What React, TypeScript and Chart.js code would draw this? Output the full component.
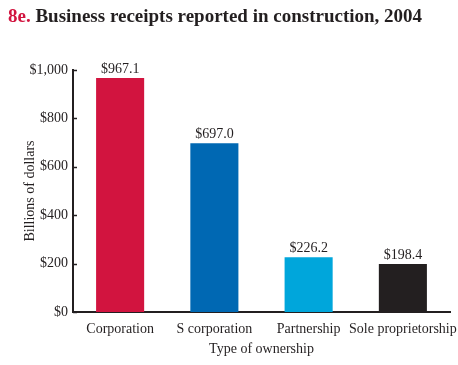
import React, { useEffect, useRef } from "react";
import { Chart, registerables } from "chart.js";

Chart.register(...registerables);

const categories = ["Corporation", "S corporation", "Partnership", "Sole proprietorship"];
const receipts = [967.1, 697.0, 226.2, 198.4];
const barColors = ["#d2143f", "#0068b3", "#00a6db", "#231f20"];
const yTicks = [0, 200, 400, 600, 800, 1000];
const titleNum = "8e.";
const titleText = "Business receipts reported in construction, 2004";
const yTitle = "Billions of dollars";
const xTitle = "Type of ownership";

const FONT = "'Liberation Serif', 'Times New Roman', serif";

export default function App() {
  const ref = useRef<HTMLCanvasElement | null>(null);
  useEffect(() => {
    if (!ref.current) return;
    const extras = {
      id: "extras",
      afterDraw(chart: any) {
        const ctx = chart.ctx;
        const y = chart.scales.y;
        const area = chart.chartArea;
        ctx.save();
        // title
        ctx.font = `bold 19px ${FONT}`;
        ctx.textBaseline = "alphabetic";
        ctx.textAlign = "left";
        ctx.fillStyle = "#d2143f";
        ctx.fillText(titleNum, 8, 22);
        const w = ctx.measureText(titleNum + " ").width;
        ctx.fillStyle = "#231f20";
        ctx.fillText(titleText, 8 + w, 22);
        // inward ticks
        ctx.strokeStyle = "#231f20";
        ctx.lineWidth = 1.5;
        yTicks.forEach((v) => {
          const py = Math.round(y.getPixelForValue(v)) + 0.5;
          ctx.beginPath();
          ctx.moveTo(area.left, py);
          ctx.lineTo(area.left + 4, py);
          ctx.stroke();
        });
        // value labels
        ctx.font = `14px ${FONT}`;
        ctx.fillStyle = "#231f20";
        ctx.textAlign = "center";
        ctx.textBaseline = "alphabetic";
        const meta = chart.getDatasetMeta(0);
        meta.data.forEach((bar: any, i: number) => {
          ctx.fillText("$" + receipts[i].toFixed(1), bar.x, bar.y - 5);
        });
        ctx.restore();
      },
    };
    const chart = new Chart(ref.current, {
      type: "bar",
      data: {
        labels: categories,
        datasets: [
          {
            data: receipts,
            backgroundColor: barColors,
            categoryPercentage: 1,
            barPercentage: 0.51,
          },
        ],
      },
      options: {
        animation: false,
        responsive: false,
        maintainAspectRatio: false,
        layout: { padding: { top: 70, right: 8, left: 0, bottom: 0 } },
        plugins: {
          legend: { display: false },
          tooltip: { enabled: false },
          title: { display: false },
        },
        scales: {
          y: {
            min: 0,
            max: 1000,
            afterBuildTicks(scale: any) {
              scale.ticks = yTicks.map((v) => ({ value: v }));
            },
            afterFit(scale: any) {
              scale.width = 73;
              scale.paddingTop = 0;
              scale.paddingBottom = 0;
            },
            grid: { display: false, drawTicks: false },
            border: { display: true, color: "#231f20", width: 2 },
            ticks: {
              padding: 5,
              color: "#231f20",
              font: { family: FONT, size: 14 },
              callback: (v: any) => "$" + Number(v).toLocaleString("en-US"),
            },
            title: {
              display: true,
              text: yTitle,
              color: "#231f20",
              font: { family: FONT, size: 14 },
              padding: { top: 22, bottom: 0 },
            },
          },
          x: {
            afterFit(scale: any) {
              scale.height = 53;
              scale.paddingLeft = 0;
              scale.paddingRight = 0;
            },
            grid: { display: false, drawTicks: false },
            border: { display: true, color: "#231f20", width: 2 },
            ticks: {
              padding: 9,
              color: "#231f20",
              maxRotation: 0,
              autoSkip: false,
              font: { family: FONT, size: 14 },
            },
            title: {
              display: true,
              text: xTitle,
              color: "#231f20",
              font: { family: FONT, size: 14 },
              padding: { top: 0, bottom: 7.5 },
            },
          },
        },
      },
      plugins: [extras],
    } as any);
    return () => chart.destroy();
  }, []);
  return (
    <div style={{ position: "fixed", left: 0, top: 0, width: 458, height: 365, background: "#fff" }}>
      <canvas ref={ref} width={458} height={365} style={{ width: 458, height: 365 }} />
    </div>
  );
}
